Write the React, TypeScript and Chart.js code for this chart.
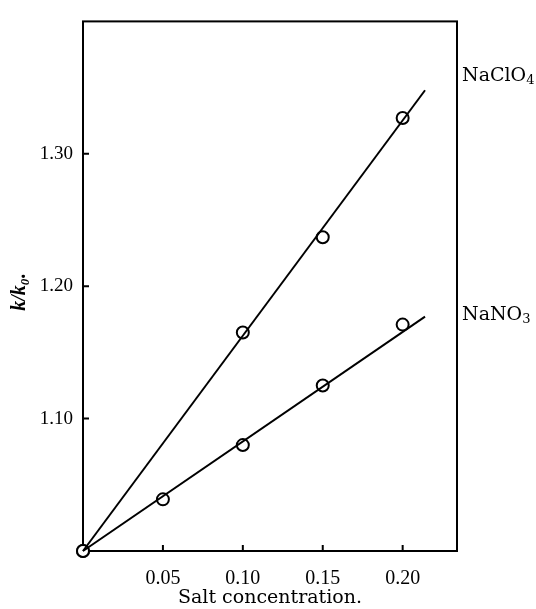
import React, { useEffect, useRef } from "react";
import { Chart, registerables } from "chart.js";

Chart.register(...registerables);

// ---- data ----
const xTickValues = [0.05, 0.1, 0.15, 0.2];
const yTickValues = [1.1, 1.2, 1.3];
const naclo4Conc = [0, 0.1, 0.15, 0.2];
const naclo4Values = [1.0, 1.165, 1.237, 1.327];
const nano3Conc = [0, 0.05, 0.1, 0.15, 0.2];
const nano3Values = [1.0, 1.039, 1.08, 1.125, 1.171];
const naclo4LineX = [0, 0.214];
const naclo4LineY = [1.0, 1.348];
const nano3LineX = [0, 0.214];
const nano3LineY = [1.0, 1.177];
const seriesNames = ["NaClO", "NaNO"];
const seriesSubs = ["4", "3"];
const seriesLabelY = [1.36, 1.18];
const xTitle = "Salt concentration.";
const xMin = 0;
const xMax = 0.234;
const yMin = 1.0;
const yMax = 1.4;

const NUM_FONT = "'Liberation Serif', 'DejaVu Serif', serif";
const TXT_FONT = "'DejaVu Serif', 'Liberation Serif', serif";

const toPoints = (xs: number[], ys: number[]) => xs.map((x, i) => ({ x, y: ys[i] }));

const decorPlugin = {
  id: "decor",
  beforeDatasetsDraw(chart: any) {
    const { ctx, chartArea } = chart;
    const xs = chart.scales.x;
    const ys = chart.scales.y;
    ctx.save();
    ctx.strokeStyle = "#000";
    ctx.lineWidth = 2;
    ctx.strokeRect(chartArea.left, chartArea.top, chartArea.right - chartArea.left, chartArea.bottom - chartArea.top);
    ctx.beginPath();
    xTickValues.forEach((v) => {
      const px = xs.getPixelForValue(v);
      ctx.moveTo(px, chartArea.bottom);
      ctx.lineTo(px, chartArea.bottom - 6);
    });
    yTickValues.forEach((v) => {
      const py = ys.getPixelForValue(v);
      ctx.moveTo(chartArea.left, py);
      ctx.lineTo(chartArea.left + 6, py);
    });
    ctx.stroke();
    ctx.restore();
  },
  afterDatasetsDraw(chart: any) {
    const { ctx, chartArea } = chart;
    const ys = chart.scales.y;
    ctx.save();
    ctx.fillStyle = "#000";
    ctx.textBaseline = "alphabetic";
    ctx.textAlign = "left";
    seriesNames.forEach((name, i) => {
      const py = ys.getPixelForValue(seriesLabelY[i]);
      const x0 = chartArea.right + 5;
      ctx.font = `19px ${TXT_FONT}`;
      ctx.fillText(name, x0, py + 7);
      const w = ctx.measureText(name).width;
      ctx.font = `13px ${TXT_FONT}`;
      ctx.fillText(seriesSubs[i], x0 + w, py + 10);
    });
    // y-axis title: k/k0.
    const cy = (chartArea.top + chartArea.bottom) / 2 + 6;
    ctx.translate(25, cy);
    ctx.rotate(-Math.PI / 2);
    const main = "k/k";
    ctx.font = `italic bold 20px ${NUM_FONT}`;
    const wMain = ctx.measureText(main).width;
    ctx.font = `italic bold 13px ${NUM_FONT}`;
    const wSub = ctx.measureText("0").width;
    ctx.font = `bold 20px ${NUM_FONT}`;
    const wDot = ctx.measureText(".").width;
    let x = -(wMain + wSub + wDot) / 2;
    ctx.font = `italic bold 20px ${NUM_FONT}`;
    ctx.fillText(main, x, 0);
    x += wMain;
    ctx.font = `italic bold 13px ${NUM_FONT}`;
    ctx.fillText("0", x, 4);
    x += wSub;
    ctx.font = `bold 20px ${NUM_FONT}`;
    ctx.fillText(".", x, 0);
    ctx.restore();
  },
};

export default function App() {
  const ref = useRef<HTMLCanvasElement | null>(null);

  useEffect(() => {
    document.body.style.margin = "0";
    if (!ref.current) return;
    const lineStyle = {
      showLine: true,
      borderColor: "#000",
      borderWidth: 2,
      pointRadius: 0,
      fill: false,
      clip: false as any,
    };
    const markerStyle = {
      showLine: false,
      pointRadius: 6,
      pointBorderWidth: 2,
      pointBorderColor: "#000",
      pointBackgroundColor: "#fff",
      clip: false as any,
    };
    const chart = new Chart(ref.current, {
      type: "scatter",
      data: {
        datasets: [
          { label: "NaClO4 fit", data: toPoints(naclo4LineX, naclo4LineY), ...lineStyle },
          { label: "NaNO3 fit", data: toPoints(nano3LineX, nano3LineY), ...lineStyle },
          { label: "NaClO4", data: toPoints(naclo4Conc, naclo4Values), ...markerStyle },
          { label: "NaNO3", data: toPoints(nano3Conc, nano3Values), ...markerStyle },
        ],
      },
      options: {
        responsive: false,
        animation: false,
        devicePixelRatio: 1,
        layout: { padding: { left: 0, right: 79, top: 11, bottom: 0 } },
        plugins: { legend: { display: false }, tooltip: { enabled: false } },
        scales: {
          x: {
            type: "linear",
            min: xMin,
            max: xMax,
            afterBuildTicks: (scale: any) => {
              scale.ticks = xTickValues.map((v) => ({ value: v }));
            },
            afterFit: (scale: any) => {
              scale.height = 58;
            },
            grid: { display: false, drawTicks: false },
            border: { display: false },
            ticks: {
              padding: 16,
              color: "#000",
              font: { family: NUM_FONT, size: 20 },
              maxRotation: 0,
              callback: (v: any) => Number(v).toFixed(2),
            },
            title: {
              display: true,
              text: xTitle,
              color: "#000",
              font: { family: TXT_FONT, size: 19 },
              padding: { top: 0, bottom: 0 },
            },
          },
          y: {
            type: "linear",
            min: yMin,
            max: yMax,
            afterBuildTicks: (scale: any) => {
              scale.ticks = yTickValues.map((v) => ({ value: v }));
            },
            afterFit: (scale: any) => {
              scale.width = 83;
            },
            grid: { display: false, drawTicks: false },
            border: { display: false },
            ticks: {
              padding: 10,
              color: "#000",
              font: { family: NUM_FONT, size: 19 },
              callback: (v: any) => Number(v).toFixed(2),
            },
          },
        },
      },
      plugins: [decorPlugin],
    });
    return () => chart.destroy();
  }, []);

  return <canvas ref={ref} width={536} height={609} style={{ display: "block" }} />;
}
